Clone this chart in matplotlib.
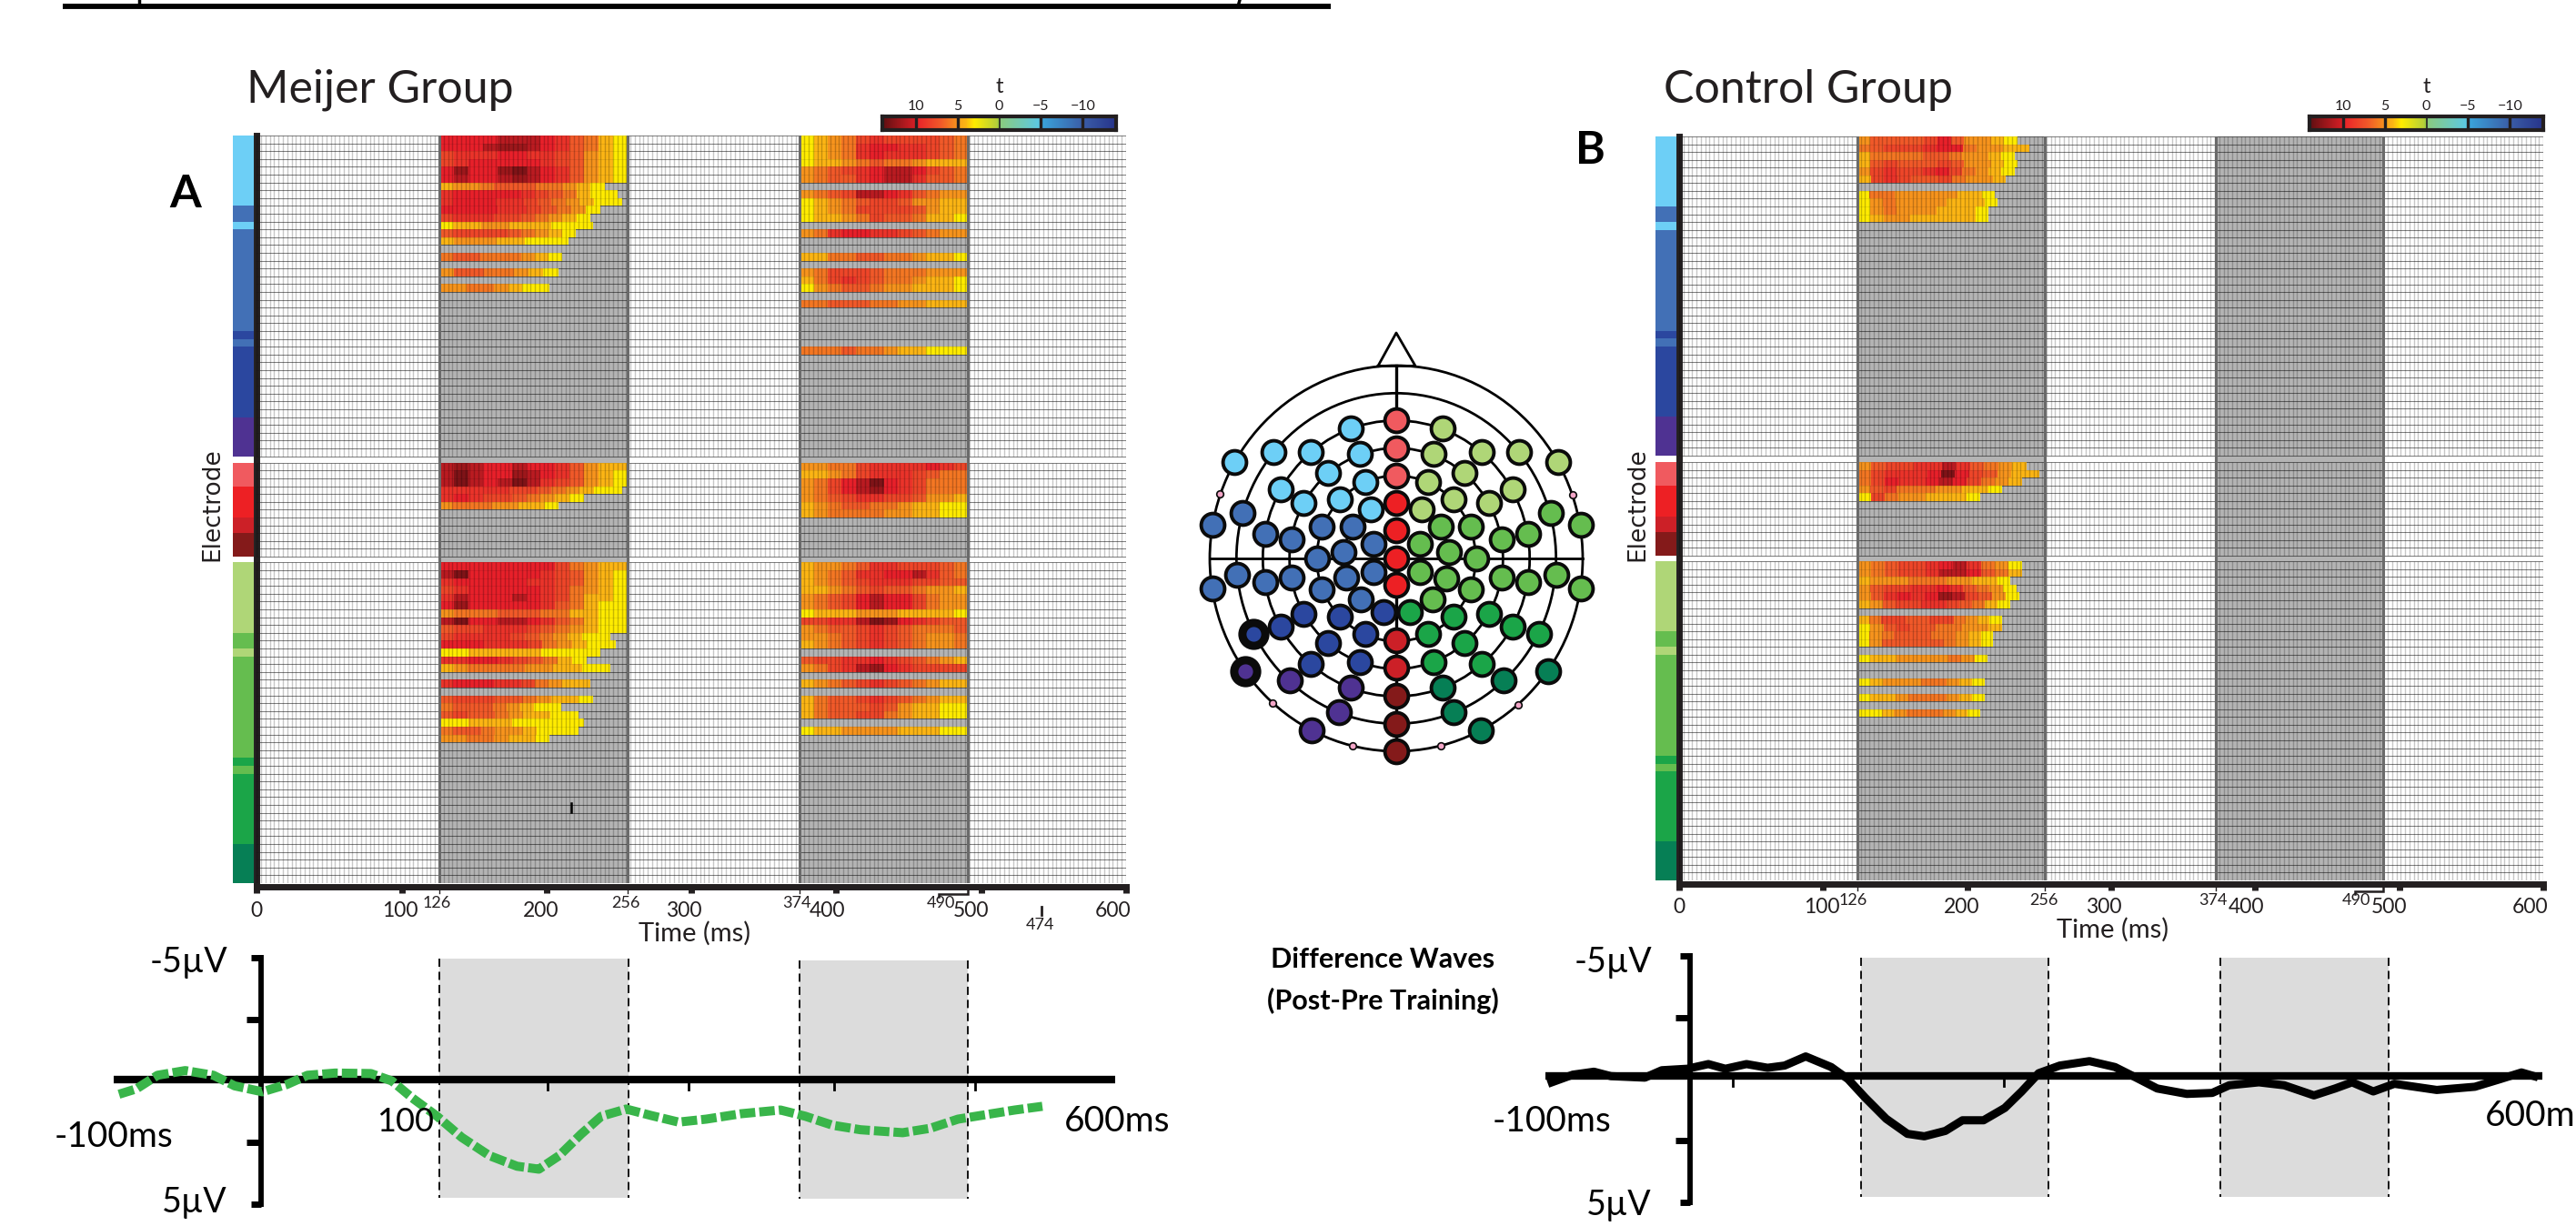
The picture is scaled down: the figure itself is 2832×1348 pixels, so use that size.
import numpy as np
import matplotlib
matplotlib.use('Agg')
import matplotlib.pyplot as plt
from matplotlib.colors import LinearSegmentedColormap, Normalize
from matplotlib.patches import Ellipse

W, H = 2832, 1348
plt.rcParams['font.family'] = ['Lato', 'DejaVu Sans']

# colour scale ---------------------------------------------------------------
t_knots = [14, 12.5, 10.01, 10, 7, 5, 4.9, 4, 3, 0.3, 0, -0.01, -5, -5.01, -10, -14]
t_colors = ['#5f0f12', '#8f1519', '#d81f26', '#e8202a', '#f15a29', '#f7941d', '#f9a41a', '#fcb614', '#ffec00',
            '#b5cf3a', '#8cc63f', '#8ccb7c', '#5ac8e8', '#3aa6dc', '#3b5ea8', '#27348b']

# strips beside the heat maps (electrodes per colour)
strip_top = [(9, '#6dcff6'), (2, '#4270b6'), (1, '#6dcff6'), (13, '#4270b6'), (1, '#2b479f'), (1, '#4270b6'),
             (9, '#2b479f'), (5, '#4f3292')]
strip_mid = [(3, '#f05a5f'), (4, '#ed2024'), (2, '#cc2027'), (3, '#841a1a')]
strip_bot = [(9, '#afd677'), (2, '#65bd4f'), (1, '#afd677'), (13, '#65bd4f'), (1, '#1ba548'), (1, '#65bd4f'),
             (9, '#1ba548'), (5, '#067f55')]

# Meijer group, t values: row -> (end ms, values)
a1_top = {
    0: (256, [10, 10, 10, 10, 11, 11, 11, 10, 9, 7, 6, 4, 3]),
    1: (256, [10, 10, 10, 11, 12, 12, 11, 10, 9, 7, 6, 4, 3]),
    2: (256, [8, 9, 9, 9, 10, 10, 9, 9, 8, 7, 5, 4, 3]),
    3: (256, [8, 9, 10, 10, 10, 10, 10, 9, 8, 7, 5, 4, 3]),
    4: (256, [10, 12, 10, 10, 12, 13, 11, 10, 9, 7, 5, 4, 3]),
    5: (256, [10, 11, 10, 10, 11, 12, 11, 10, 9, 7, 5, 4, 3]),
    6: (240, [4, 5, 5, 6, 7, 7, 7, 6, 6, 5, 4, 3]),
    7: (249, [9, 10, 10, 10, 10, 10, 9, 8, 7, 6, 4, 3, 3]),
    8: (252, [9, 10, 10, 10, 9, 9, 8, 7, 6, 5, 4, 3, 3]),
    9: (237, [10, 10, 10, 10, 9, 9, 8, 7, 6, 5, 3]),
    10: (230, [8, 9, 9, 9, 8, 8, 7, 6, 5, 4, 3]),
    11: (232, [3, 4, 4, 5, 5, 4, 4, 4, 3, 3, 3]),
    12: (220, [7, 8, 8, 8, 8, 7, 6, 5, 4, 3]),
    13: (215, [4, 5, 5, 5, 4, 4, 3, 3, 3]),
    15: (211, [6, 7, 7, 6, 6, 6, 5, 4, 3]),
    17: (208, [5, 7, 7, 6, 6, 5, 4, 3]),
    19: (202, [5, 5, 6, 6, 5, 4, 3, 3]),
}
a1_mid = {
    0: (256, [11, 12, 11, 10, 10, 11, 10, 10, 9, 7, 5, 4, 4]),
    1: (256, [11, 13, 11, 10, 10, 12, 11, 10, 9, 7, 5, 4, 3]),
    2: (256, [11, 13, 11, 10, 11, 13, 11, 9, 8, 7, 5, 4, 3]),
    3: (252, [9, 9, 9, 9, 9, 8, 8, 7, 6, 5, 4, 3, 3]),
    4: (226, [9, 10, 9, 8, 8, 7, 6, 5, 4, 3]),
    5: (208, [5, 6, 6, 6, 5, 5, 4, 4, 3]),
}
a1_bot = {
    0: (256, [10, 10, 10, 10, 10, 10, 10, 10, 8, 6, 5, 4, 4]),
    1: (256, [11, 13, 10, 10, 10, 10, 10, 9, 8, 7, 5, 4, 3]),
    2: (256, [9, 10, 10, 10, 10, 10, 9, 9, 8, 7, 5, 4, 3]),
    3: (256, [8, 9, 10, 10, 10, 10, 10, 9, 8, 6, 5, 4, 3]),
    4: (256, [9, 11, 10, 10, 10, 11, 10, 9, 8, 6, 4, 4, 3]),
    5: (256, [10, 12, 10, 10, 10, 10, 10, 9, 7, 6, 4, 3, 3]),
    6: (256, [5, 6, 6, 6, 7, 7, 7, 6, 6, 4, 4, 3, 3]),
    7: (256, [11, 13, 10, 10, 11, 11, 10, 9, 7, 6, 4, 3, 3]),
    8: (256, [7, 8, 8, 9, 9, 9, 8, 7, 6, 5, 4, 3, 3]),
    9: (244, [8, 9, 9, 9, 9, 8, 7, 6, 5, 4, 3, 3]),
    10: (248, [10, 10, 10, 9, 9, 9, 8, 6, 5, 4, 3, 3]),
    11: (237, [3, 3, 4, 4, 4, 4, 4, 3, 3, 3, 3]),
    12: (228, [9, 9, 10, 10, 9, 8, 7, 6, 4, 3]),
    13: (244, [4, 5, 6, 6, 6, 6, 5, 5, 4, 4, 3, 3]),
    15: (230, [9, 10, 10, 10, 9, 9, 8, 6, 5, 4, 4]),
    17: (232, [7, 8, 8, 8, 7, 7, 6, 5, 4, 4, 3]),
    18: (210, [6, 7, 7, 7, 6, 5, 4, 3, 3]),
    19: (222, [7, 8, 7, 7, 6, 5, 4, 4, 3, 3]),
    20: (226, [3, 3, 4, 4, 4, 3, 3, 3, 3, 3]),
    21: (222, [6, 7, 7, 6, 5, 5, 4, 3, 3, 3]),
    22: (202, [5, 5, 6, 6, 5, 4, 4, 3]),
}
a2_top = {
    0: (491, [3, 4, 5, 6, 8, 9, 8, 8, 8, 8, 7, 6]),
    1: (491, [3, 4, 5, 6, 9, 10, 10, 9, 9, 8, 7, 6]),
    2: (491, [3, 4, 5, 6, 9, 10, 9, 9, 9, 8, 7, 6]),
    3: (491, [3, 4, 4, 5, 6, 7, 6, 6, 5, 4, 4, 4]),
    4: (491, [5, 6, 7, 8, 9, 10, 11, 11, 10, 8, 7, 6]),
    5: (491, [5, 6, 7, 7, 9, 10, 11, 11, 9, 7, 7, 6]),
    7: (491, [5, 6, 7, 8, 11, 11, 10, 9, 7, 6, 5, 5]),
    8: (491, [3, 4, 5, 6, 7, 8, 8, 7, 5, 5, 4, 4]),
    9: (491, [3, 4, 5, 6, 8, 8, 8, 8, 7, 5, 4, 4]),
    10: (491, [3, 4, 4, 5, 6, 8, 7, 7, 6, 4, 4, 3]),
    12: (491, [5, 6, 9, 10, 10, 9, 9, 8, 7, 6, 5, 5]),
    15: (491, [4, 4, 6, 6, 7, 7, 6, 6, 5, 4, 4, 3]),
    17: (491, [5, 6, 8, 8, 8, 7, 6, 6, 6, 5, 5, 5]),
    18: (491, [4, 6, 8, 9, 8, 7, 6, 6, 5, 4, 4, 3]),
    19: (491, [3, 5, 6, 7, 7, 6, 5, 5, 4, 4, 4, 3]),
    21: (491, [6, 6, 7, 7, 7, 6, 6, 5, 5, 4, 4, 4]),
    27: (491, [6, 6, 6, 7, 6, 6, 5, 4, 4, 3, 3, 3]),
}
a2_mid = {
    0: (491, [5, 5, 6, 6, 8, 9, 9, 9, 9, 10, 9, 8]),
    1: (491, [4, 4, 5, 6, 8, 9, 9, 9, 8, 7, 6, 6]),
    2: (491, [5, 6, 8, 10, 11, 13, 10, 9, 8, 6, 6, 6]),
    3: (491, [5, 6, 8, 10, 11, 12, 10, 9, 8, 6, 6, 6]),
    4: (491, [5, 6, 7, 8, 9, 9, 8, 8, 7, 5, 5, 4]),
    5: (491, [4, 5, 6, 7, 7, 6, 6, 5, 4, 4, 3, 3]),
    6: (491, [4, 5, 6, 6, 6, 6, 5, 5, 4, 4, 3, 3]),
}
a2_bot = {
    0: (491, [4, 5, 5, 6, 7, 9, 9, 8, 8, 8, 7, 6]),
    1: (491, [4, 5, 6, 7, 9, 9, 10, 10, 11, 9, 7, 6]),
    2: (491, [4, 5, 6, 7, 8, 9, 9, 9, 8, 8, 7, 7]),
    3: (491, [4, 4, 5, 6, 7, 8, 7, 7, 6, 5, 5, 4]),
    4: (491, [5, 6, 7, 8, 10, 11, 10, 10, 8, 6, 5, 5]),
    5: (491, [5, 6, 7, 8, 10, 11, 10, 10, 8, 6, 5, 5]),
    6: (491, [3, 4, 4, 4, 5, 5, 5, 4, 4, 4, 4, 3]),
    7: (491, [8, 8, 9, 9, 11, 13, 12, 10, 9, 8, 7, 7]),
    8: (491, [5, 6, 7, 7, 8, 9, 8, 7, 6, 6, 6, 7]),
    9: (491, [5, 5, 6, 7, 8, 9, 8, 7, 6, 5, 5, 6]),
    10: (491, [4, 5, 6, 7, 8, 9, 8, 7, 6, 5, 5, 6]),
    12: (491, [7, 8, 8, 9, 9, 10, 9, 8, 7, 6, 5, 4]),
    13: (491, [5, 6, 8, 9, 11, 12, 10, 9, 8, 8, 8, 8]),
    15: (491, [4, 5, 6, 7, 8, 9, 8, 7, 6, 5, 4, 4]),
    17: (491, [4, 6, 7, 7, 8, 9, 8, 7, 6, 5, 4, 4]),
    18: (491, [4, 6, 7, 7, 7, 8, 7, 5, 4, 4, 3, 3]),
    19: (491, [4, 6, 7, 7, 8, 8, 6, 5, 4, 4, 3, 3]),
    21: (491, [3, 4, 4, 5, 5, 5, 5, 4, 4, 4, 3, 3]),
}

# Control group
b1_top = {
    0: (235, [5, 7, 7, 7, 7, 8, 10, 7, 5, 5, 4, 3]),
    1: (243, [6, 7, 8, 8, 8, 9, 10, 10, 6, 5, 5, 4, 4]),
    2: (233, [4, 6, 6, 6, 6, 7, 7, 6, 5, 5, 4, 3]),
    3: (235, [4, 7, 8, 7, 7, 7, 8, 7, 5, 5, 4, 3]),
    4: (233, [5, 8, 9, 8, 8, 9, 10, 8, 6, 5, 4, 3]),
    5: (227, [4, 8, 9, 8, 7, 7, 8, 6, 5, 5, 4]),
    7: (219, [3, 6, 6, 5, 5, 5, 5, 5, 4, 4, 3]),
    8: (221, [3, 5, 6, 5, 5, 5, 5, 4, 4, 4, 3]),
    9: (215, [3, 5, 6, 5, 5, 5, 4, 4, 4, 3]),
    10: (215, [3, 4, 5, 5, 4, 4, 4, 4, 4, 3]),
}
b1_mid = {
    0: (241, [5, 7, 8, 8, 9, 9, 11, 9, 7, 6, 5, 4]),
    1: (250, [6, 8, 9, 9, 9, 10, 13, 10, 8, 7, 5, 4, 4]),
    2: (238, [6, 8, 10, 9, 9, 10, 11, 10, 8, 6, 5, 4]),
    3: (224, [5, 7, 8, 6, 6, 6, 5, 5, 4, 4, 3]),
    4: (209, [3, 8, 6, 5, 5, 4, 4, 4, 3]),
}
b1_bot = {
    0: (238, [5, 6, 7, 8, 8, 9, 10, 11, 9, 6, 5, 3]),
    1: (238, [5, 6, 7, 8, 8, 9, 11, 11, 10, 7, 6, 4]),
    2: (230, [4, 5, 5, 5, 6, 6, 6, 5, 5, 4, 4, 3]),
    3: (234, [5, 7, 8, 8, 9, 9, 10, 9, 7, 6, 5, 3]),
    4: (236, [5, 7, 9, 10, 9, 10, 12, 11, 8, 7, 5, 3]),
    5: (230, [4, 5, 7, 8, 8, 9, 9, 8, 7, 6, 4, 3]),
    7: (224, [4, 6, 8, 8, 7, 7, 8, 8, 6, 5, 4, 3]),
    8: (224, [3, 5, 7, 8, 7, 7, 6, 6, 5, 5, 4]),
    9: (218, [3, 5, 6, 7, 7, 7, 6, 6, 5, 4, 3]),
    10: (218, [3, 5, 7, 7, 7, 7, 7, 6, 5, 4, 3]),
    12: (214, [3, 4, 4, 5, 5, 5, 5, 6, 5, 3]),
    15: (212, [3, 4, 5, 5, 5, 6, 6, 5, 4, 3]),
    17: (212, [3, 4, 4, 5, 6, 6, 6, 5, 4, 3]),
    19: (209, [3, 3, 4, 5, 6, 6, 6, 5, 4, 3]),
}

tick_ms = [0, 100, 200, 300, 400, 500, 600]
tick_label_ms = [0, 99, 196, 295, 394, 493, 591]
a_windows = [(126, 256), (374.8, 491)]
b_windows = [(123.6, 254), (372.5, 489)]

# difference waves
wave_a_t = [-94.5, -82.5, -68, -49, -29.6, -15, 4, 21, 35, 54, 78.6, 93, 107, 124, 141, 160, 179, 194, 208, 223,
            237, 254, 271, 290, 309, 333, 360, 377, 396, 415, 444, 463, 482, 502, 521, 540]
wave_a_v = [0.54, 0.32, -0.23, -0.42, -0.23, 0.2, 0.44, 0.14, -0.23, -0.32, -0.3, 0, 0.69, 1.43, 2.29, 3.03, 3.46,
            3.58, 3.03, 2.16, 1.43, 1.14, 1.4, 1.67, 1.55, 1.33, 1.18, 1.43, 1.8, 1.98, 2.1, 1.92, 1.55, 1.36, 1.18,
            1.03]
wave_b_t = [-84.4, -69.9, -55.4, -43.7, -20.4, -8.8, 8.7, 23.2, 34.9, 49.4, 63.9, 75.6, 90.1, 107.6, 119.2, 130.9,
            145.4, 160, 171.6, 186.1, 197.8, 212.3, 226.9, 238.5, 250.2, 264.7, 285.1, 302.6, 317.1, 331.6, 352,
            369.4, 381.1, 401.5, 418.9, 439.3, 453.9, 465.5, 480.1, 494.6, 523.7, 549.9, 567.3, 581.9, 590.6]
wave_b_v = [0.13, -0.18, -0.3, -0.12, -0.06, -0.36, -0.42, -0.61, -0.42, -0.61, -0.46, -0.55, -0.92, -0.49, 0, 0.75,
            1.61, 2.22, 2.32, 2.1, 1.67, 1.67, 1.17, 0.5, -0.24, -0.55, -0.73, -0.49, -0.06, 0.38, 0.6, 0.56, 0.25,
            0.13, 0.25, 0.66, 0.38, 0.13, 0.5, 0.19, 0.44, 0.31, 0, -0.27, -0.12]

# electrode positions on the head drawing
light_blue = [(645, 393), (390, 470), (513, 472), (675, 478), (262, 503), (570, 541), (692, 571), (415, 595),
              (490, 638), (608, 628), (712, 660)]
blue = [(288, 671), (188, 712), (362, 742), (450, 758), (550, 718), (650, 718), (720, 775), (621, 802), (533, 822),
        (720, 868), (630, 885), (450, 885), (270, 877), (362, 899), (188, 920), (550, 923), (678, 957)]
dark_blue = [(490, 1004), (610, 1014), (752, 998), (415, 1048), (692, 1070), (570, 1100), (513, 1170), (675, 1163)]
purple = [(443, 1225), (645, 1248), (605, 1330), (515, 1388)]
salmon = [(795, 367), (795, 458), (795, 549)]
red = [(795, 640), (795, 730), (795, 822), (795, 910)]
crimson = [(795, 1092), (795, 1183)]
dark_red = [(795, 1275), (795, 1367), (795, 1458)]
light_green = [(947, 393), (1078, 472), (1201, 470), (1330, 503), (917, 478), (1020, 541), (900, 571), (1178, 595),
               (984, 628), (1101, 638), (880, 660)]
green = [(1304, 671), (1404, 712), (942, 718), (1041, 718), (1143, 758), (1231, 742), (872, 775), (970, 802),
         (1059, 822), (873, 868), (961, 887), (1143, 885), (1231, 899), (1322, 877), (1405, 920), (1041, 923),
         (914, 957)]
dark_green = [(840, 998), (983, 1014), (1100, 1004), (1178, 1048), (1267, 1070), (900, 1070), (1021, 1100),
              (917, 1163), (1077, 1170)]
teal = [(1295, 1195), (1148, 1225), (947, 1248), (985, 1330), (1075, 1388)]
thick_dark_blue = [(325, 1070)]
thick_purple = [(296, 1195)]
pink = [(214, 609), (1378, 613), (388, 1300), (1198, 1304), (652, 1440), (942, 1440)]
ring_rx = [615, 527, 440, 352, 262, 174]
ring_ry = [636, 545, 455, 364, 273, 180]

fig = plt.figure(figsize=(W / 100, H / 100), dpi=100)
cmap = LinearSegmentedColormap.from_list('t', [((k + 14) / 28, c) for k, c in zip(t_knots[::-1], t_colors[::-1])],
                                          N=512)
norm = Normalize(-14, 14)


def px_axes(x0, y0, x1, y1):
    return fig.add_axes([x0 / W, 1 - y1 / H, (x1 - x0) / W, (y1 - y0) / H])


def px_text(x, y, s, **kw):
    kw.setdefault('ha', 'center')
    kw.setdefault('va', 'center')
    kw.setdefault('color', '#231f20')
    return fig.text(x / W, 1 - y / H, s, **kw)


def draw_rows(ax, rows, start, row0):
    for r, (end, vals) in rows.items():
        edges = np.linspace(start, end, len(vals) + 1)
        ax.pcolormesh(edges, [row0 + r, row0 + r + 1], np.array([vals]), cmap=cmap, norm=norm, zorder=2,
                      linewidth=0, antialiased=False)


def heat_panel(box, windows, first, second, small_labels):
    ax = px_axes(*box)
    groups = [(0, 41), (41.85, 12), (54.6, 41)]
    ax.set_xlim(0, 600)
    ax.set_ylim(95.6, 0)
    for w in windows:
        ax.axvspan(w[0], w[1], color='#b4b4b4', lw=0, zorder=1)
        ax.axvline(w[0], color='#6a6a6a', lw=2.2, zorder=4)
        ax.axvline(w[1], color='#6a6a6a', lw=2.2, zorder=4)
    cols = np.arange(0, 601, 3)
    for row0, n in groups:
        rows = row0 + np.arange(n + 1)
        ax.hlines(rows, 0, 600, color='black', alpha=0.45, lw=0.75, zorder=1.5)
        ax.hlines(rows, 0, 600, color='black', alpha=0.08, lw=0.75, zorder=3)
        ax.vlines(cols, row0, row0 + n, color='black', alpha=0.22, lw=1.0, zorder=3)
    for w, rows_by_group in zip(windows, [first, second]):
        for (row0, n), rows in zip(groups, rows_by_group):
            draw_rows(ax, rows, w[0], row0)
    # electrode strip
    for (row0, n), strip in zip(groups, [strip_top, strip_mid, strip_bot]):
        y = row0
        for count, colour in strip:
            ax.bar(-9.3, count, bottom=y, width=14.2, color=colour, lw=0, clip_on=False, zorder=2)
            y += count
    for name in ['top', 'right']:
        ax.spines[name].set_visible(False)
    ax.spines['left'].set_linewidth(5)
    ax.spines['left'].set_color('#231f20')
    ax.spines['bottom'].set_linewidth(5)
    ax.spines['bottom'].set_color('#231f20')
    ax.spines['bottom'].set_position(('outward', 3))
    ax.set_yticks([])
    ax.set_xticks(tick_ms)
    ax.set_xticklabels([])
    ax.tick_params(axis='x', length=5, width=5, color='#231f20')
    for t, lab in zip(tick_label_ms, tick_ms):
        ax.text(t, 99.1, str(lab), ha='center', va='center', fontsize=16.5, color='#231f20', clip_on=False)
    for t, lab in small_labels:
        ax.text(t, 98.2, lab, ha='center', va='center', fontsize=13, color='#231f20', clip_on=False)
    # little bracket by the 490 label
    ax.plot([windows[1][1], windows[1][1], windows[1][1] - 20, windows[1][1] - 20], [96.4, 97, 97, 97.35],
            color='#231f20', lw=1.8, clip_on=False, solid_joinstyle='miter', zorder=5)
    for edge in [windows[0][0], windows[0][1], windows[1][0]]:
        ax.plot([edge, edge], [96, 96.9], color='#231f20', lw=1, clip_on=False)
    return ax


def colorbar(x0):
    ax = px_axes(x0, 128, x0 + 257, 143)
    ramp = np.linspace(14, -14, 400).reshape(1, -1)
    ax.imshow(ramp, cmap=cmap, norm=norm, aspect='auto', extent=(14, -14, 0, 1))
    for b in [10, 5, -5, -10]:
        ax.axvline(b, color='#231f20', lw=2.4)
    ax.axvline(0, color='#231f20', lw=1.2)
    ax.set_xticks([])
    ax.set_yticks([])
    for s in ax.spines.values():
        s.set_linewidth(3)
        s.set_color('#231f20')
    for t, lab in zip([10, 5, 0, -5, -10], ['10', '5', '0', '\u22125', '\u221210']):
        ax.text(t, 1.75, lab, ha='center', va='center', fontsize=11.5, color='#231f20', clip_on=False)
    ax.text(0, 3.2, 't', ha='center', va='center', fontsize=17, color='#231f20', clip_on=False)


def wave_panel(x0, t0, y0_px, axis_v, axis_x, axis_end, boxes, ticks_under):
    ax = px_axes(x0, 1040, x0 + 1280, 1340)
    ax.set_xlim((x0 - t0) / 1.6, (x0 + 1280 - t0) / 1.6)
    ax.set_ylim((1340 - y0_px) / 27.1, (1040 - y0_px) / 27.1)
    ax.axis('off')
    for (a, b, v0, v1) in boxes:
        ax.fill_between([a, b], v0, v1, color='#dcdcdc', lw=0, zorder=1)
        ax.plot([a, a], [v0, v1], color='black', lw=1.3, ls=(0, (5, 3)), zorder=2)
        ax.plot([b, b], [v0, v1], color='black', lw=1.3, ls=(0, (5, 3)), zorder=2)
    ax.plot(axis_end, [axis_v, axis_v], color='black', lw=6, solid_capstyle='butt', zorder=3)
    ax.plot([axis_x, axis_x], [-5.1, 5.1], color='black', lw=4.2, solid_capstyle='butt', zorder=3)
    for v, length in [(-5, 7), (-2.5, 10), (2.5, 10), (5, 7)]:
        ax.plot([axis_x - length, axis_x], [v, v], color='black', lw=5, solid_capstyle='butt', zorder=3)
    for t in ticks_under:
        ax.plot([t, t], [axis_v, axis_v + 0.4], color='black', lw=2, zorder=3)
    return ax


# Heat maps
ax_a = heat_panel((282.3, 149, 1237.8, 971), a_windows, (a1_top, a1_mid, a1_bot), (a2_top, a2_mid, a2_bot),
                  [(124, '126'), (255, '256'), (373, '374'), (472, '490')])
ax_b = heat_panel((1846, 150, 2796, 968), b_windows, (b1_top, b1_mid, b1_bot), ({}, {}, {}),
                  [(121, '126'), (253, '256'), (371, '374'), (470, '490')])
ax_a.text(302, 102, 'Time (ms)', ha='center', va='center', fontsize=21, color='#231f20', clip_on=False)
ax_b.text(301, 102, 'Time (ms)', ha='center', va='center', fontsize=21, color='#231f20', clip_on=False)
ax_a.plot([542, 542], [98.6, 99.7], color='#231f20', lw=2, clip_on=False)
ax_a.text(541, 100.9, '474', ha='center', va='center', fontsize=13, color='#231f20', clip_on=False)
ax_a.plot([217, 217], [85.4, 86.5], color='black', lw=1.8, zorder=5)

colorbar(970)
colorbar(2539)

px_text(271, 99, 'Meijer Group', ha='left', fontsize=36)
px_text(1829, 99, 'Control Group', ha='left', fontsize=36)
px_text(204, 213, 'A', fontsize=36, fontweight='bold', color='black')
px_text(1748, 166, 'B', fontsize=36, fontweight='bold', color='black')
px_text(233, 555, 'Electrode', rotation=90, fontsize=19, family='DejaVu Sans')
px_text(1800, 555, 'Electrode', rotation=90, fontsize=19, family='DejaVu Sans')

# Head
head = px_axes(1270, 340, 1790, 860)
head.set_xlim(0, 1560)
head.set_ylim(1560, 0)
head.axis('off')
for rx, ry in zip(ring_rx, ring_ry):
    head.add_patch(Ellipse((795, 822), 2 * rx, 2 * ry, fill=False, ec='black', lw=2, zorder=1))
head.plot([735, 795, 858, 735], [187, 78, 187, 187], color='black', lw=2, zorder=1)
head.plot([795, 795], [187, 367], color='black', lw=2.4, zorder=1)
head.plot([795, 795], [910, 1458], color='black', lw=2.4, zorder=1)
head.plot([180, 1410], [822, 822], color='black', lw=2, zorder=1)
for pts, colour in [(light_blue, '#6dcff6'), (blue, '#4270b6'), (dark_blue, '#2b479f'), (purple, '#4f3292'),
                    (salmon, '#f05a5f'), (red, '#ed2024'), (crimson, '#cc2027'), (dark_red, '#841a1a'),
                    (light_green, '#afd677'), (green, '#65bd4f'), (dark_green, '#1ba548'), (teal, '#067f55')]:
    xs, ys = zip(*pts)
    head.scatter(xs, ys, s=345, c=colour, edgecolors='#0b0b0b', linewidths=2.8, zorder=3, clip_on=False)
for pts, colour in [(thick_dark_blue, '#2b479f'), (thick_purple, '#4f3292')]:
    xs, ys = zip(*pts)
    head.scatter(xs, ys, s=330, c=colour, edgecolors='#0b0b0b', linewidths=6.5, zorder=3)
xs, ys = zip(*pink)
head.scatter(xs, ys, s=30, c='#f4a6c8', edgecolors='#0b0b0b', linewidths=1.2, zorder=3)

# Difference waves
wave_a = wave_panel(110, 282, 1188.5, -0.05, 3, [-98, 590],
                    [(125.6, 255.6, -4.96, 4.74), (373, 489, -4.89, 4.78)], [200, 297, 397, 494])
wave_a.plot(wave_a_t, wave_a_v, color='#39b54a', lw=7.2, ls=(0, (1.7, 0.45)), zorder=4)
wave_b = wave_panel(1552, 1841, 1186.5, -0.13, 10.5, [-89, 596],
                    [(128, 257, -4.93, 4.78), (375, 490.6, -4.93, 4.78)], [40, 226])
wave_b.plot(wave_b_t, wave_b_v, color='black', lw=6.5, zorder=4)

for x, lab_y, s in [(250, 1058, '-5\u00b5V'), (250, 1322, '5\u00b5V'), (1816, 1058, '-5\u00b5V'),
                    (1816, 1325, '5\u00b5V')]:
    px_text(x, lab_y, s, ha='right', fontsize=27, color='black')
px_text(125, 1250, '-100ms', fontsize=28, color='black')
px_text(446, 1233, '100', fontsize=26, color='black')
px_text(1228, 1233, '600ms', fontsize=28, color='black')
px_text(1706, 1233, '-100ms', fontsize=28, color='black')
px_text(2732, 1227, '600ms', ha='left', fontsize=28, color='black')
px_text(1520, 1055, 'Difference Waves', fontsize=22, fontweight='bold', color='black')
px_text(1520, 1100, '(Post-Pre Training)', fontsize=22, fontweight='bold', color='black')

# rule across the top, with the bits of a cut off heading on it
top = px_axes(0, 0, W, 14)
top.set_xlim(0, W)
top.set_ylim(14, 0)
top.axis('off')
top.plot([69, 1463], [7, 7], color='black', lw=4.2, solid_capstyle='butt')
top.plot([153, 153], [0, 7], color='black', lw=2.5)
top.plot([1363, 1361], [0, 7], color='black', lw=2.5)

fig.savefig('out.png', dpi=100)
